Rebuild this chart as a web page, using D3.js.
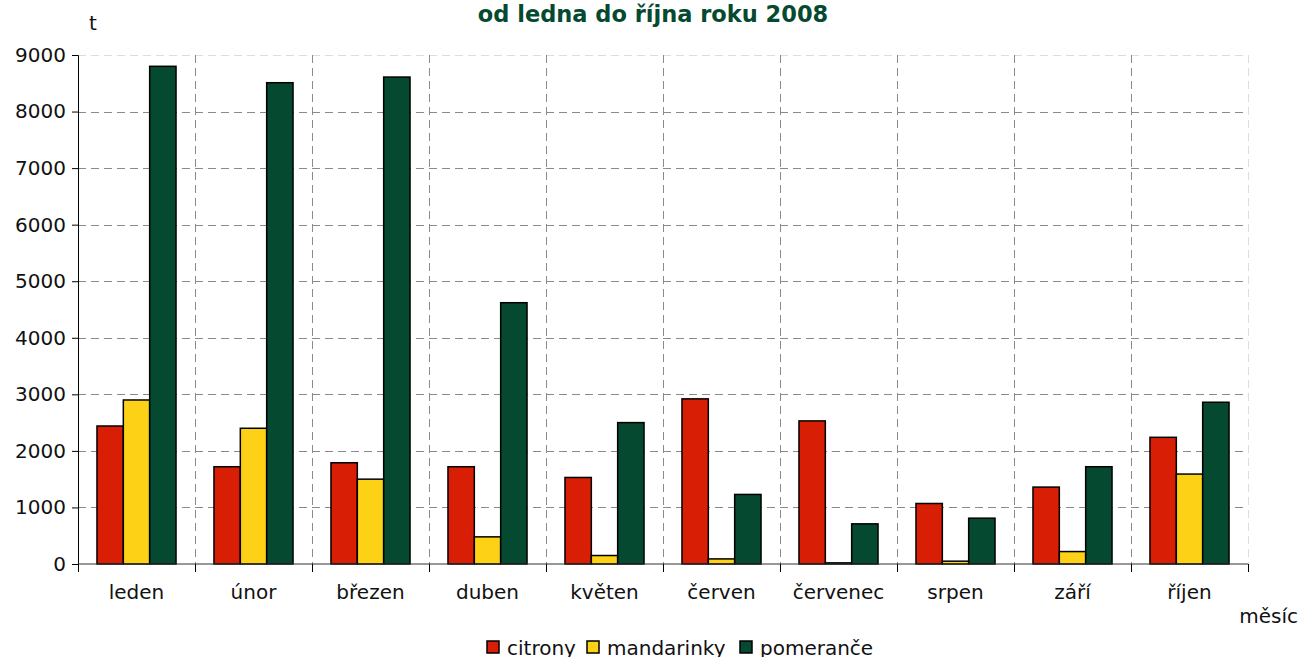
<!DOCTYPE html>
<html>
<head>
<meta charset="utf-8">
<script src="https://cdn.jsdelivr.net/npm/d3@7"></script>
<style>
  html, body { margin: 0; padding: 0; background: #fff; overflow: hidden; }
  svg { display: block; }
</style>
</head>
<body>
<svg id="chart"></svg>
<script>
// data
const months = ['leden', 'únor', 'březen', 'duben', 'květen', 'červen', 'červenec', 'srpen', 'září', 'říjen']
const seriesNames = ['citrony', 'mandarinky', 'pomeranče']
const citrony = [2440, 1720, 1790, 1720, 1530, 2920, 2530, 1070, 1360, 2240]
const mandarinky = [2900, 2400, 1500, 480, 150, 90, 20, 50, 220, 1590]
const pomerance = [8800, 8510, 8610, 4620, 2500, 1230, 710, 810, 1720, 2860]
const yTicks = [0, 1000, 2000, 3000, 4000, 5000, 6000, 7000, 8000, 9000]
const colors = ['#d81e05', '#fcd116', '#054a30']

const width = 1301, height = 657
const margin = { top: 55, right: 53, bottom: 93, left: 78 }
const innerWidth = width - margin.left - margin.right
const innerHeight = height - margin.top - margin.bottom
const font = '"DejaVu Sans", Verdana, sans-serif'

const svg = d3.select('#chart')
  .attr('width', width)
  .attr('height', height)
  .attr('font-family', font)
  .attr('font-size', 20)

const values = [citrony, mandarinky, pomerance]
const table = months.map((m, i) => ({ month: m, vals: values.map(s => s[i]) }))

const x = d3.scaleBand().domain(months).range([0, innerWidth]).paddingInner(0).paddingOuter(0)
const x1 = d3.scaleBand().domain(seriesNames).range([0, x.bandwidth()]).paddingOuter(0.72)
const y = d3.scaleLinear().domain([0, 9000]).range([innerHeight, 0])

const g = svg.append('g').attr('transform', `translate(${margin.left},${margin.top})`)

// grid
g.append('g').selectAll('line')
  .data(yTicks.slice(1))
  .join('line')
  .attr('x1', 0).attr('x2', innerWidth)
  .attr('y1', d => Math.round(y(d)) + 0.5).attr('y2', d => Math.round(y(d)) + 0.5)
  .attr('stroke', d => d === 9000 ? '#ddd' : '#8a8a8a')
  .attr('stroke-dasharray', '8,5')
g.append('g').selectAll('line')
  .data(months.slice(1).concat(['end']))
  .join('line')
  .attr('x1', d => d === 'end' ? innerWidth + 0.5 : Math.round(x(d)) + 0.5)
  .attr('x2', d => d === 'end' ? innerWidth + 0.5 : Math.round(x(d)) + 0.5)
  .attr('y1', 0).attr('y2', innerHeight)
  .attr('stroke', d => d === 'end' ? '#ddd' : '#8a8a8a')
  .attr('stroke-dasharray', '8,5')

// bars
g.append('g').selectAll('g')
  .data(table)
  .join('g')
  .attr('transform', d => `translate(${x(d.month)},0)`)
  .selectAll('rect')
  .data(d => d.vals.map((v, i) => ({ key: seriesNames[i], v, i })))
  .join('rect')
  .attr('x', d => x1(d.key))
  .attr('y', d => y(d.v))
  .attr('width', x1.bandwidth())
  .attr('height', d => innerHeight - y(d.v))
  .attr('fill', d => colors[d.i])
  .attr('stroke', '#000')
  .attr('stroke-width', 1.5)

// y axis
const yAxis = g.append('g')
  .call(d3.axisLeft(y).tickValues(yTicks).tickFormat(d3.format('d')).tickSize(6).tickPadding(6))
  .attr('font-size', 20)
  .attr('font-family', font)
yAxis.selectAll('text').attr('fill', '#111')
yAxis.select('.domain').attr('d', `M-6,0.5H0.5V${innerHeight}`)

// x axis
const xAxis = g.append('g').attr('transform', `translate(0,${innerHeight})`)
xAxis.append('line').attr('x1', 0).attr('x2', innerWidth).attr('stroke', '#333')
xAxis.selectAll('line.tick')
  .data(d3.range(months.length + 1))
  .join('line')
  .attr('class', 'tick')
  .attr('x1', i => Math.round(i * x.step()) + 0.5)
  .attr('x2', i => Math.round(i * x.step()) + 0.5)
  .attr('y1', 0).attr('y2', 8)
  .attr('stroke', '#000')
xAxis.selectAll('text')
  .data(months)
  .join('text')
  .attr('x', d => x(d) + x.bandwidth() / 2)
  .attr('y', 35)
  .attr('text-anchor', 'middle')
  .attr('fill', '#111')
  .text(d => d)

// labels
svg.append('text').attr('x', 89).attr('y', 30).attr('fill', '#111').text('t')
svg.append('text').attr('x', 1298).attr('y', 623).attr('text-anchor', 'end').attr('fill', '#111').text('měsíc')
svg.append('text')
  .attr('x', 653).attr('y', 22)
  .attr('text-anchor', 'middle')
  .attr('font-size', 22.5).attr('font-weight', 'bold')
  .attr('fill', '#054a30')
  .text('od ledna do října roku 2008')

// legend
const legendItems = [{ name: 'citrony', x: 487 }, { name: 'mandarinky', x: 587 }, { name: 'pomeranče', x: 740 }]
const lg = svg.append('g').selectAll('g')
  .data(legendItems)
  .join('g')
  .attr('transform', d => `translate(${d.x},641)`)
lg.append('rect').attr('width', 12).attr('height', 12)
  .attr('fill', (d, i) => colors[i]).attr('stroke', '#000').attr('stroke-width', 1.5)
lg.append('text').attr('x', 20).attr('y', 13.5).attr('fill', '#111').text(d => d.name)
</script>
</body>
</html>
